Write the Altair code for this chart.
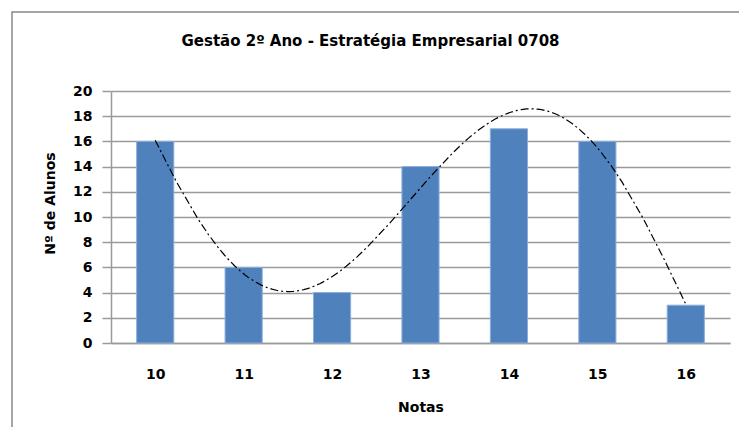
import altair as alt
import pandas as pd

# Data
notas = [10, 11, 12, 13, 14, 15, 16]
alunos = [16, 6, 4, 14, 17, 16, 3]
y_ticks = [0, 2, 4, 6, 8, 10, 12, 14, 16, 18, 20]

df = pd.DataFrame({"nota": notas, "alunos": alunos})

W, H = 619, 252
FONT = "DejaVu Sans"
GRID = "#9A9A9A"

x_scale = alt.Scale(domain=[9.5, 16.5], nice=False, zero=False)
y_scale = alt.Scale(domain=[0, 20], nice=False)

x_axis = alt.Axis(
    values=notas,
    title="Notas",
    grid=False,
    ticks=False,
    domainColor=GRID,
    domainWidth=1.5,
    labelFont=FONT,
    labelFontSize=14,
    labelFontWeight="bold",
    labelColor="#000000",
    labelPadding=24,
    titleFont=FONT,
    titleFontSize=14,
    titleFontWeight="bold",
    titleColor="#000000",
    titlePadding=19,
    format="d",
)
y_axis = alt.Axis(
    values=y_ticks,
    title="Nº de Alunos",
    grid=True,
    gridColor=GRID,
    gridWidth=1.5,
    domainColor=GRID,
    domainWidth=1.5,
    tickColor=GRID,
    tickWidth=1.5,
    tickSize=9,
    labelFont=FONT,
    labelFontSize=14,
    labelFontWeight="bold",
    labelColor="#000000",
    labelPadding=10,
    titleFont=FONT,
    titleFontSize=14,
    titleFontWeight="bold",
    titleColor="#000000",
    titleAngle=-90,
    titleX=-61,
    titleY=112,
    titleAlign="center",
    titleBaseline="middle",
)

border = alt.Chart(pd.DataFrame({"a": [0]})).mark_rect(
    filled=False, stroke="#888888", strokeWidth=1.5
).encode(
    x=alt.value(-99), y=alt.value(-79), x2=alt.value(W + 80), y2=alt.value(H + 140)
)

bars = alt.Chart(df).transform_calculate(
    x0="datum.nota - 0.21", x1="datum.nota + 0.21"
).mark_bar(color="#4F81BD", stroke="#8AAEDB", strokeWidth=1).encode(
    x=alt.X("x0:Q", scale=x_scale, axis=x_axis),
    x2="x1:Q",
    y=alt.Y("alunos:Q", scale=y_scale, axis=y_axis),
    y2=alt.datum(0),
)

trend = alt.Chart(df).transform_regression(
    "nota", "alunos", method="poly", order=5
).mark_line(color="#000000", strokeWidth=1.2, strokeDash=[8, 3, 2, 3]).encode(
    x=alt.X("nota:Q", scale=x_scale, axis=x_axis),
    y=alt.Y("alunos:Q", scale=y_scale, axis=y_axis),
)

chart = alt.layer(border, bars, trend).properties(
    width=W,
    height=H,
    autosize=alt.AutoSizeParams(type="none"),
    padding={"left": 103, "top": 83, "right": 9, "bottom": 84},
    title=alt.TitleParams(
        "Gestão 2º Ano - Estratégia Empresarial 0708",
        font=FONT,
        fontSize=15,
        fontWeight="bold",
        color="#000000",
        anchor="middle",
        dx=-50,
        offset=-38,
    ),
).configure_view(strokeWidth=0)

chart.save("out.html", embed_options={"renderer": "svg", "actions": False})
